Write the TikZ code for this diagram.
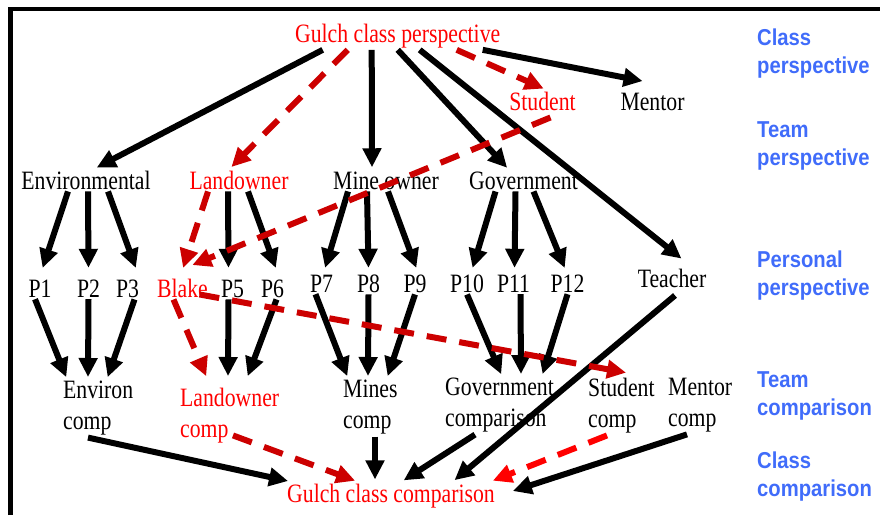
\documentclass[tikz,border=0pt]{standalone}
\usepackage{fontspec}
\setmainfont{Liberation Serif}[FakeStretch=0.82]
\newfontfamily\sidefont{Liberation Sans}[FakeStretch=0.88]
\usepackage{tikz}
\usetikzlibrary{arrows.meta}
\definecolor{darkred}{RGB}{204,0,0}
\definecolor{sideblue}{RGB}{64,108,250}
\tikzset{
t/.style={
  anchor=base,
  inner sep=2pt,
  font=\fontsize{26.5}{31}\selectfont
  },
rt/.style={t, text=red},
pn/.style={t, text height=25pt},
pm/.style={pn, text height=20pt},
cmp/.style={t, anchor=north west, align=left},
side/.style={
  anchor=north west,
  inner sep=0pt,
  align=left,
  text=sideblue,
  font=\sidefont\bfseries\fontsize{23}{28}\selectfont
  },
bl/.style={line width=6pt, color=black},
rd/.style={line width=6pt, color=darkred, dash pattern=on 20pt off 13pt}
}
\begin{document}
\begin{tikzpicture}[->,>={Triangle[length=19pt,width=18pt]},shorten >=2pt,x=1pt,y=-1pt]
    \useasboundingbox (0,0) rectangle (880,515);
    \draw[-,shorten >=0pt,line width=4.5pt] (10.5,515) |- (880,9);

    % class and team perspective
    \node[rt] (gcp)   at (397.7,42) {Gulch class perspective};
    \node[rt] (stud)  at (542.5,110) {Student};
    \node[t]  (ment)  at (652.5,110) {Mentor};
    \node[t]  (env)   at (86,189) {Environmental};
    \node[rt] (land)  at (239,189) {Landowner};
    \node[t]  (mine)  at (386,189) {Mine owner};
    \node[t]  (gov)   at (523.5,189) {Government};

    % personal perspective
    \node[pn] (p1)    at (40,297) {P1};
    \node[pn] (p2)    at (88.5,297) {P2};
    \node[pn] (p3)    at (127.5,297) {P3};
    \node[pn,text=red] (blake) at (182.5,297) {Blake};
    \node[pn] (p5)    at (232.5,297) {P5};
    \node[pn] (p6)    at (272.5,297) {P6};
    \node[pm] (p7)    at (321.5,292) {P7};
    \node[pm] (p8)    at (368.5,292) {P8};
    \node[pm] (p9)    at (415,292) {P9};
    \node[pm] (p10)   at (467,292) {P10};
    \node[pm] (p11)   at (513.5,292) {P11};
    \node[pm] (p12)   at (567.5,292) {P12};
    \node[pn] (teach) at (672,287) {Teacher};

    % comparisons
    \node[cmp] (envc)   at (61,379) {Environ\\comp};
    \node[cmp,text=red] (landc) at (178,386) {Landowner\\comp};
    \node[cmp] (minesc) at (341,378) {Mines\\comp};
    \node[cmp] (govc)   at (443,376) {Government\\comparison};
    \node[cmp] (studc)  at (586,376) {Student\\comp};
    \node[cmp] (mentc)  at (666,376) {Mentor\\comp};
    \node[rt] (gcc)     at (391,502) {Gulch class comparison};

    % level names
    \node[side] (l1) at (757,28.3) {Class\\perspective};
    \node[side] (l2) at (757,121.3) {Team\\perspective};
    \node[side] (l3) at (757,250.3) {Personal\\perspective};
    \node[side] (l4) at (757,371.3) {Team\\comparison};
    \node[side] (l5) at (757,451.3) {Class\\comparison};

    \path[bl]
    ([xshift=-75pt]gcp.south) edge ([xshift=9pt]env.north)
    ([xshift=-26pt]gcp.south) edge ([xshift=-14pt]mine.north)
    (gcp.south) edge ([xshift=-15pt]gov.north)
    ([xshift=22pt]gcp.south) edge ([xshift=11pt]teach.north)
    ([xshift=85pt]gcp.south) edge ([xshift=-8pt,yshift=9pt]ment.north)
    ([xshift=-18pt]env.south) edge ([xshift=2pt]p1.north)
    ([xshift=2pt]env.south) edge (p2.north)
    ([xshift=22pt]env.south) edge ([xshift=9pt]p3.north)
    ([xshift=-11pt]land.south) edge ([xshift=-4pt]p5.north)
    ([xshift=9pt]land.south) edge ([xshift=4pt]p6.north)
    ([xshift=-38pt]mine.south) edge ([xshift=3pt]p7.north)
    ([xshift=-19pt]mine.south) edge (p8.north)
    ([xshift=2pt]mine.south) edge ([xshift=2pt]p9.north)
    ([xshift=-28pt]gov.south) edge ([xshift=5pt]p10.north)
    ([xshift=-8pt]gov.south) edge ([xshift=1pt]p11.north)
    ([xshift=10pt]gov.south) edge ([xshift=-2pt]p12.north)
    ([xshift=-5pt]p1.south) edge ([xshift=6pt]envc.north west)
    (p2.south) edge ([xshift=27pt]envc.north west)
    ([xshift=7pt]p3.south) edge ([xshift=46pt]envc.north west)
    ([xshift=-4pt]p5.south) edge ([xshift=50pt,yshift=8pt]landc.north west)
    ([xshift=4pt]p6.south) edge ([xshift=69pt,yshift=8pt]landc.north west)
    ([xshift=-6pt]p7.south) edge ([xshift=7pt]minesc.north west)
    (p8.south) edge ([xshift=27pt]minesc.north west)
    (p9.south) edge ([xshift=46pt]minesc.north west)
    (p10.south) edge ([xshift=59pt]govc.north west)
    ([xshift=7pt]p11.south) edge ([xshift=78pt]govc.north west)
    (p12.south) edge ([xshift=99pt]govc.north west)
    ([xshift=3pt,yshift=-6pt]teach.south) edge ([xshift=62pt]gcc.north)
    ([xshift=27pt]envc.south west) edge ([xshift=5pt]gcc.north west)
    ([xshift=34pt]minesc.south west) edge ([xshift=-16pt]gcc.north)
    ([xshift=32pt]govc.south west) edge ([xshift=11pt]gcc.north)
    ([xshift=21pt]mentc.south west) edge ([xshift=14pt,yshift=4pt]gcc.east)
    ;
    \path[rd]
    ([xshift=-50pt]gcp.south) edge ([xshift=-9pt]land.north)
    ([xshift=59pt]gcp.south) edge ([xshift=3pt]stud.north)
    ([xshift=8pt,yshift=-5pt]stud.south) edge ([xshift=8pt,yshift=4pt]blake.north)
    ([xshift=-31pt]land.south) edge (blake.north)
    ([xshift=-9pt]blake.south) edge ([xshift=29pt,yshift=8pt]landc.north west)
    ([xshift=17pt,yshift=5pt]blake.south) edge ([xshift=42pt,yshift=3pt]studc.north west)
    ([xshift=55pt,yshift=10pt]landc.south west) edge ([xshift=-34pt]gcc.north)
    ([xshift=21pt]studc.south west) edge[color=red] ([xshift=-6pt]gcc.north east) % brighter one
    ;
\end{tikzpicture}
\end{document}
